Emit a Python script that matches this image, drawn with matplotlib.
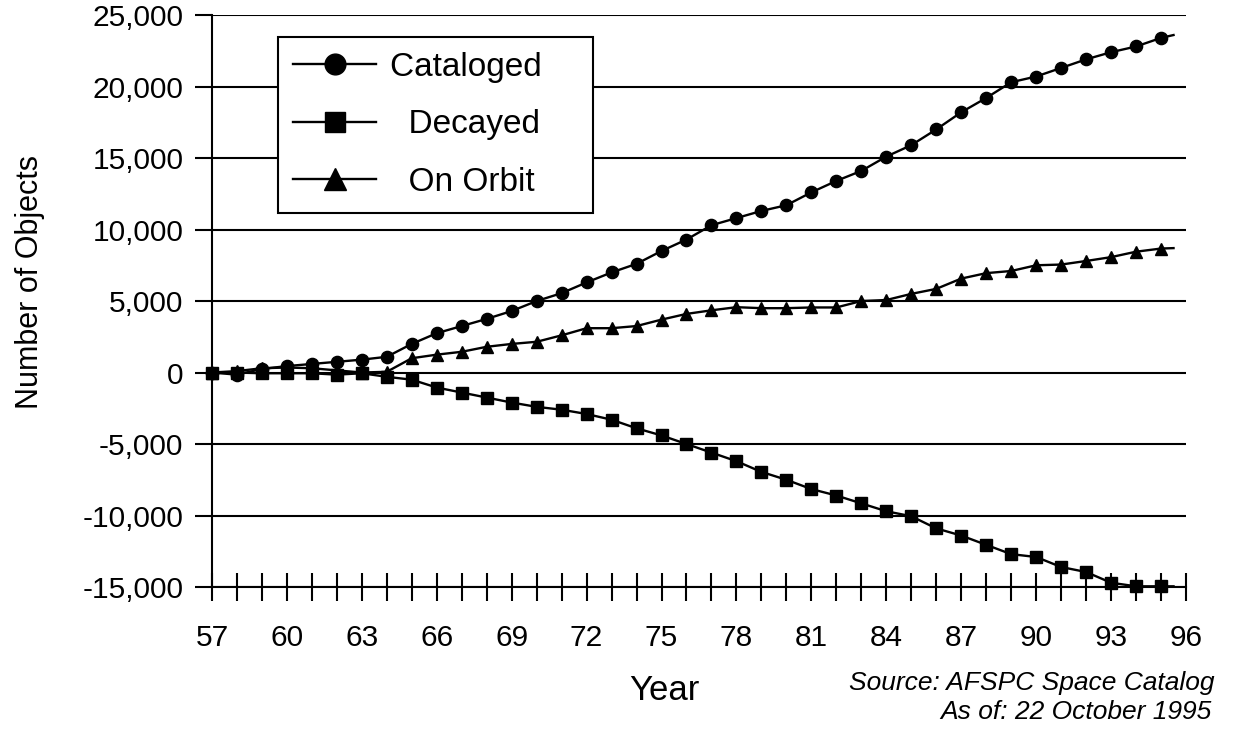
import matplotlib
matplotlib.use("Agg")
import matplotlib.pyplot as plt
from matplotlib.ticker import FuncFormatter, MultipleLocator

plt.rcParams["font.family"] = ["Liberation Sans", "DejaVu Sans"]

# ---- data ----
years = list(range(57, 96))

cataloged = [0, -150, 250, 450, 600, 750, 900, 1100,
             2000, 2750, 3250, 3750, 4300, 5000, 5550, 6300,
             7000, 7600, 8500, 9300, 10300, 10800, 11300, 11700,
             12600, 13400, 14100, 15100,
             15900, 17000, 18200, 19200, 20300, 20700, 21300, 21900,
             22400, 22800, 23400]

decayed = [0, 0, -50, -50, -50, -150, -50, -300,
           -500, -1050, -1400, -1750, -2100, -2400, -2600, -2900,
           -3300, -3900, -4400, -5000, -5600, -6200, -6950, -7500,
           -8150, -8600, -9150, -9700,
           -10050, -10900, -11400, -12050, -12700, -12900, -13600, -13950,
           -14700, -14950, -14950]

on_orbit = [0, 100, 300, 350, 300, 150, 0, 50,
            1000, 1250, 1450, 1800, 2000, 2150, 2600, 3100,
            3100, 3250, 3700, 4100, 4350, 4570, 4500, 4500,
            4550, 4550, 5000, 5070,
            5500, 5850, 6570, 6950, 7100, 7500, 7550, 7800,
            8070, 8450, 8670]

# lines run on to the catalog date (Oct 1995), no marker there
end_year = 95.5
end_values = [23600, -14950, 8700]

series = [
    ("Cataloged", cataloged, "o", 8.8),
    ("  Decayed", decayed, "s", 8.2),
    ("  On Orbit", on_orbit, "^", 9.2),
]

fig = plt.figure(figsize=(12.33, 7.36), dpi=100)
ax = fig.add_axes([0.1719, 0.2024, 0.9619 - 0.1719, 0.9796 - 0.2024])

for (label, vals, mk, ms), last in zip(series, end_values):
    xs = years + [end_year]
    ys = vals + [last]
    ax.plot(xs, ys, color="black", lw=1.7, marker=mk, ms=ms,
            markevery=list(range(len(vals))), label=label + "    ",
            clip_on=False, zorder=3)

ax.set_xlim(57, 96)
ax.set_ylim(-15000, 25000)

ax.set_xticks(range(57, 97))
ax.set_xticklabels([str(y) if (y - 57) % 3 == 0 else "" for y in range(57, 97)])
ax.yaxis.set_major_locator(MultipleLocator(5000))
ax.yaxis.set_major_formatter(FuncFormatter(lambda v, p: f"{int(v):,}"))

ax.tick_params(axis="x", direction="inout", length=19.5, width=1.5,
               labelsize=21.5, pad=17, color="black")
ax.tick_params(axis="y", direction="out", length=12.5, width=1.5,
               labelsize=21.5, pad=8, color="black")

ax.yaxis.grid(True, color="black", lw=1.5)
ax.set_axisbelow(True)
for s in ["top", "right"]:
    ax.spines[s].set_visible(False)
for s in ["left", "bottom"]:
    ax.spines[s].set_linewidth(1.5)
    ax.spines[s].set_color("black")

leg = ax.legend(loc="upper left", bbox_to_anchor=(0.0677, 0.962),
                borderaxespad=0, fontsize=24, markerscale=1.7,
                handlelength=2.5, handletextpad=0.4, labelspacing=0.8,
                borderpad=0.45, fancybox=False, framealpha=1,
                edgecolor="black")
leg.get_frame().set_linewidth(1.5)
leg.set_zorder(5)

fig.text(0.0243, 0.617, "Number of Objects", rotation=90,
         ha="center", va="center", fontsize=22)
fig.text(0.5385, 0.0625, "Year", ha="center", va="center", fontsize=25)
fig.text(0.9854, 0.072, "Source: AFSPC Space Catalog", ha="right",
         va="center", fontsize=19, style="italic")
fig.text(0.983, 0.033, "As of: 22 October 1995", ha="right",
         va="center", fontsize=19, style="italic")

fig.savefig("out.png", dpi=100, facecolor="white")
